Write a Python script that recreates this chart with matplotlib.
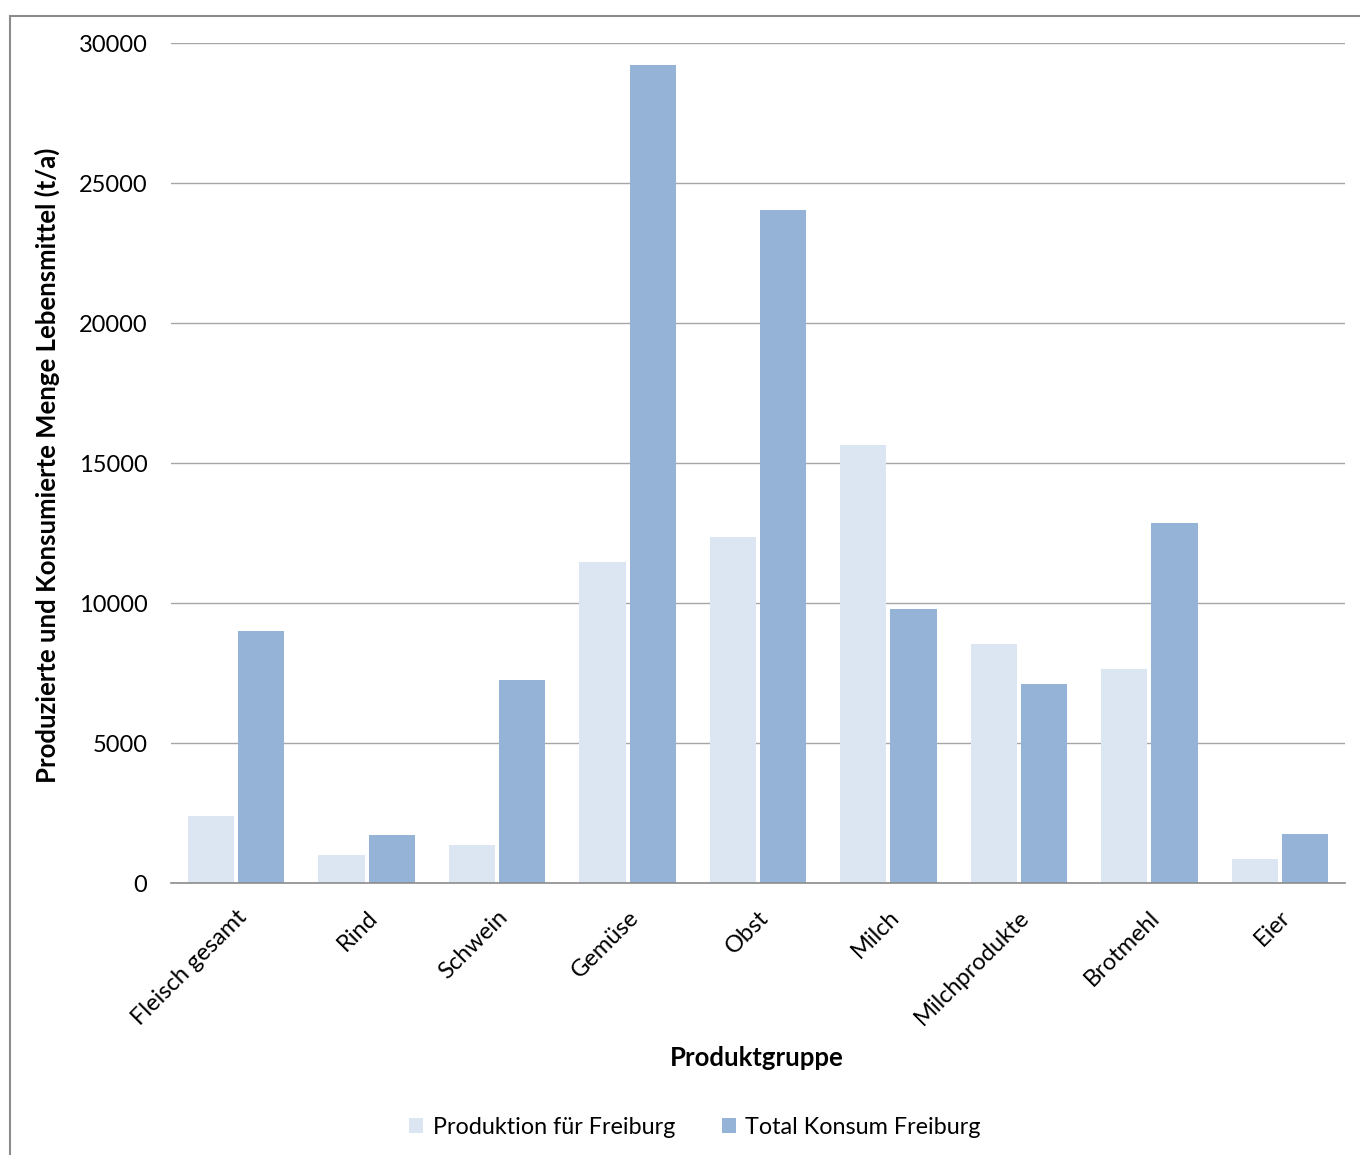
import matplotlib.pyplot as plt
from matplotlib.patches import Rectangle
import numpy as np

plt.rcParams['font.family'] = ['Lato', 'DejaVu Sans']

gruppen = ['Fleisch gesamt', 'Rind', 'Schwein', 'Gemüse', 'Obst', 'Milch',
           'Milchprodukte', 'Brotmehl', 'Eier']
produktion = [2400, 1000, 1350, 11450, 12350, 15650, 8550, 7650, 850]
konsum = [9000, 1700, 7250, 29200, 24050, 9800, 7100, 12850, 1750]
y_ticks = [0, 5000, 10000, 15000, 20000, 25000, 30000]

hell = '#DCE6F2'
dunkel = '#95B3D7'

fig = plt.figure(figsize=(13.6, 11.55), dpi=100)
# chart frame, only left and top edge visible
fig.patches.append(Rectangle((10 / 1360, -0.1), 1.2, 1 - 16 / 1155 + 0.1,
                             transform=fig.transFigure, fill=False,
                             edgecolor='#8c8c8c', linewidth=1.5))

ax = fig.add_axes([171 / 1360, 1 - 883 / 1155, 1174 / 1360, 840 / 1155])

x = np.arange(len(gruppen))
w = 0.355
ax.bar(x - w / 2 - 0.015, produktion, w, color=hell, label='Produktion für Freiburg')
ax.bar(x + w / 2 + 0.015, konsum, w, color=dunkel, label='Total Konsum Freiburg')

ax.set_xlim(-0.5, len(gruppen) - 0.5)
ax.set_ylim(0, 30000)
ax.set_yticks(y_ticks)
ax.set_yticklabels([str(t) for t in y_ticks], fontsize=17)
ax.yaxis.grid(True, color='#a6a6a6', linewidth=1)
ax.set_axisbelow(True)
for s in ['top', 'right', 'left']:
    ax.spines[s].set_visible(False)
ax.spines['bottom'].set_color('#8c8c8c')
ax.spines['bottom'].set_linewidth(1.2)
ax.tick_params(axis='y', length=0, pad=17)
ax.tick_params(axis='x', length=0, pad=17)

ax.set_xticks(x)
ax.set_xticklabels(gruppen, rotation=45, ha='right', rotation_mode='anchor',
                   fontsize=17)

ax.set_ylabel('Produzierte und Konsumierte Menge Lebensmittel (t/a)',
              fontsize=18.5, fontweight='bold')
ax.yaxis.set_label_coords((60 - 171) / 1174, (883 - 465) / 840)
fig.text(757 / 1360, 1 - 1058 / 1155, 'Produktgruppe', fontsize=18.5,
         fontweight='bold', ha='center', va='center')

fig.legend(loc='center', bbox_to_anchor=(695 / 1360, 1 - 1127 / 1155), ncol=2,
           frameon=False, fontsize=16.8, handlelength=0.6, handleheight=0.6,
           handletextpad=0.4, columnspacing=2.0)

fig.savefig('out.png', dpi=100)
